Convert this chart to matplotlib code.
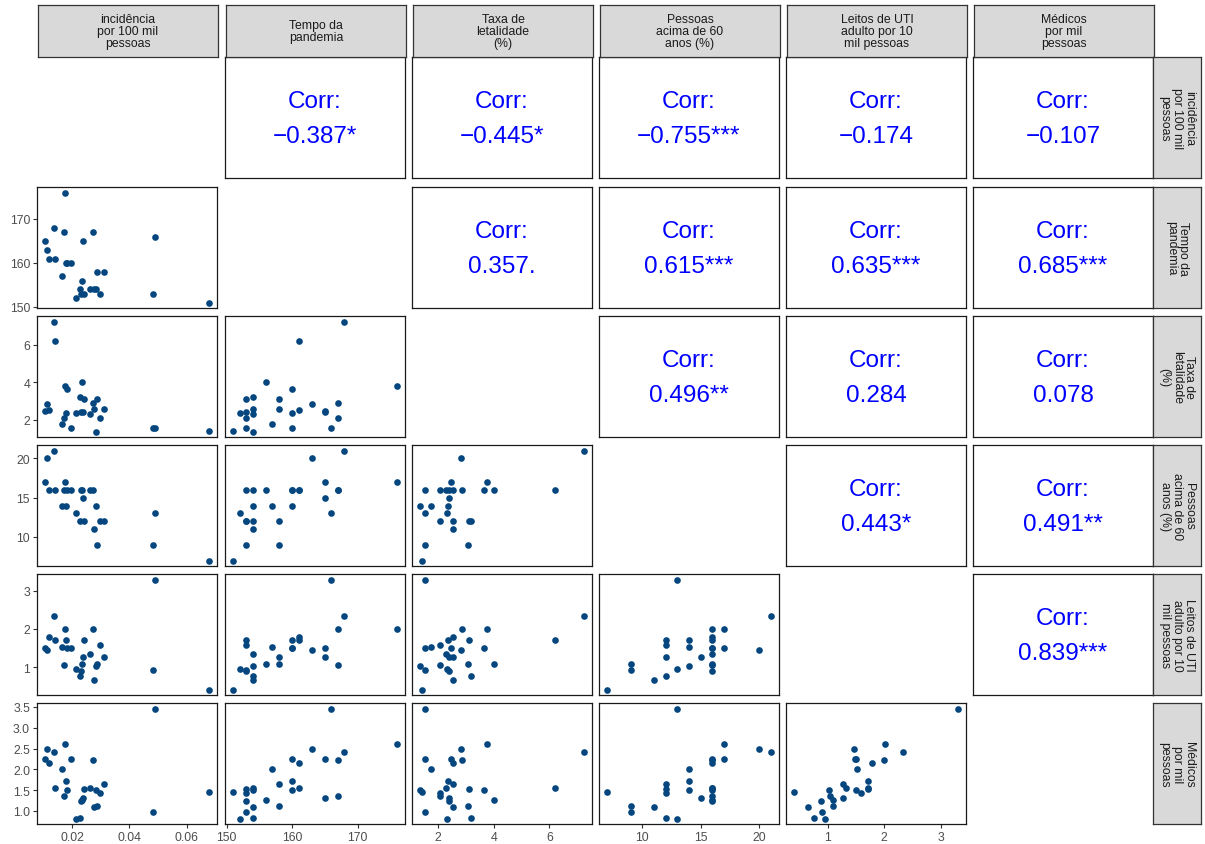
import numpy as np
import matplotlib
matplotlib.use("Agg")
import matplotlib.pyplot as plt

plt.rcParams["font.family"] = ["Liberation Sans", "DejaVu Sans"]

# one row per state
incidencia = [0.0491, 0.0177, 0.0111, 0.0136, 0.0195, 0.0106, 0.0273, 0.0118, 0.0165,
              0.0178, 0.0312, 0.0139, 0.0182, 0.0678, 0.0242, 0.0296, 0.0261, 0.0284,
              0.0237, 0.0232, 0.0171, 0.0234, 0.0276, 0.0287, 0.0484, 0.0229, 0.0214]
tempo = [166, 176, 163, 168, 160, 165, 167, 161, 157, 160, 158, 161, 160, 151, 153, 153,
         154, 154, 165, 153, 167, 156, 154, 158, 153, 154, 152]
letalidade = [1.54, 3.77, 2.81, 7.24, 1.54, 2.47, 2.87, 2.53, 1.75, 2.36, 2.54, 6.19, 3.64,
              1.41, 3.12, 2.08, 2.29, 1.36, 2.41, 2.39, 2.08, 4.02, 2.54, 3.08, 1.54, 3.20, 2.33]
idosos = [13, 17, 20, 21, 16, 17, 16, 16, 14, 14, 12, 16, 16, 7, 12, 12, 16, 14, 15, 16,
          16, 16, 11, 9, 9, 12, 13]
leitos = [3.30, 2.01, 1.46, 2.33, 1.49, 1.51, 1.99, 1.78, 1.52, 1.71, 1.27, 1.71, 1.50, 0.41,
          1.71, 1.59, 1.33, 1.02, 1.27, 0.89, 1.05, 1.09, 0.66, 1.09, 0.91, 0.76, 0.96]
medicos = [3.46, 2.60, 2.48, 2.41, 2.26, 2.25, 2.22, 2.15, 2.01, 1.73, 1.64, 1.55, 1.50,
           1.46, 1.54, 1.44, 1.56, 1.50, 1.32, 1.24, 1.37, 1.27, 1.10, 1.12, 0.98, 0.84, 0.82]

labels = ["incidência\npor 100 mil\npessoas", "Tempo da\npandemia", "Taxa de\nletalidade\n(%)",
          "Pessoas\nacima de 60\nanos (%)", "Leitos de UTI\nadulto por 10\nmil pessoas",
          "Médicos\npor mil\npessoas"]

ticks = [[0.02, 0.04, 0.06], [150, 160, 170], [2, 4, 6], [10, 15, 20], [1, 2, 3],
         [1.0, 1.5, 2.0, 2.5, 3.0, 3.5]]
tick_fmt = ["{:.2f}", "{:.0f}", "{:.0f}", "{:.0f}", "{:.0f}", "{:.1f}"]

corr_text = {
    (0, 1): "\u22120.387*", (0, 2): "\u22120.445*", (0, 3): "\u22120.755***",
    (0, 4): "\u22120.174", (0, 5): "\u22120.107",
    (1, 2): "0.357.", (1, 3): "0.615***", (1, 4): "0.635***", (1, 5): "0.685***",
    (2, 3): "0.496**", (2, 4): "0.284", (2, 5): "0.078",
    (3, 4): "0.443*", (3, 5): "0.491**",
    (4, 5): "0.839***",
}

data = [np.array(v, dtype=float) for v in
        (incidencia, tempo, letalidade, idosos, leitos, medicos)]

W, H = 1205, 845
fig = plt.figure(figsize=(W / 100, H / 100), dpi=100)

col_x = [37, 225, 412, 599, 786, 973]
row_y = [58, 188, 317, 446, 575, 704]
pw, ph = 180, 121
strip_h, strip_w = 52, 48
point_col = "#05467F"
grey_text = "#4D4D4D"


def px_axes(x0, y0, w, h):
    return fig.add_axes([x0 / W, 1 - (y0 + h) / H, w / W, h / H])


def limits(v):
    lo, hi = v.min(), v.max()
    pad = (hi - lo) * 0.05
    return lo - pad, hi + pad


def strip(ax, text, rotation=0):
    ax.set_facecolor("#D9D9D9")
    ax.set_xticks([])
    ax.set_yticks([])
    for s in ax.spines.values():
        s.set_color("#333333")
        s.set_linewidth(0.9)
    ax.text(0.5, 0.5, text, ha="center", va="center", rotation=rotation,
            fontsize=8.8, color="#1A1A1A", linespacing=1.05, transform=ax.transAxes)


n = len(data)
for i in range(n):
    for j in range(n):
        x0, y0 = col_x[j], row_y[i]
        if i == j:
            continue
        ax = px_axes(x0, y0, pw, ph)
        for s in ax.spines.values():
            s.set_color("#1A1A1A")
            s.set_linewidth(0.9)
        if i < j:
            ax.set_xticks([])
            ax.set_yticks([])
            ax.text(0.5, 0.635, "Corr:", ha="center", va="center", fontsize=17.5,
                    color="blue", transform=ax.transAxes)
            ax.text(0.5, 0.345, corr_text[(i, j)], ha="center", va="center", fontsize=17.5,
                    color="blue", transform=ax.transAxes)
            continue
        ax.scatter(data[j], data[i], s=23, color=point_col, linewidths=0, zorder=3)
        ax.set_xlim(*limits(data[j]))
        ax.set_ylim(*limits(data[i]))
        ax.tick_params(colors="#333333", labelcolor=grey_text, labelsize=8.8,
                       length=3, width=0.8, pad=2)
        if j == 0:
            ax.set_yticks(ticks[i])
            ax.set_yticklabels([tick_fmt[i].format(t) for t in ticks[i]])
        else:
            ax.set_yticks([])
        if i == n - 1:
            ax.set_xticks(ticks[j])
            ax.set_xticklabels([tick_fmt[j].format(t) for t in ticks[j]])
        else:
            ax.set_xticks([])

for j in range(n):
    strip(px_axes(col_x[j] + 1, row_y[0] - strip_h, pw, strip_h), labels[j])
for i in range(n):
    strip(px_axes(col_x[5] + pw, row_y[i], strip_w, ph), labels[i], rotation=-90)

fig.savefig("out.png", dpi=100, facecolor="white")
